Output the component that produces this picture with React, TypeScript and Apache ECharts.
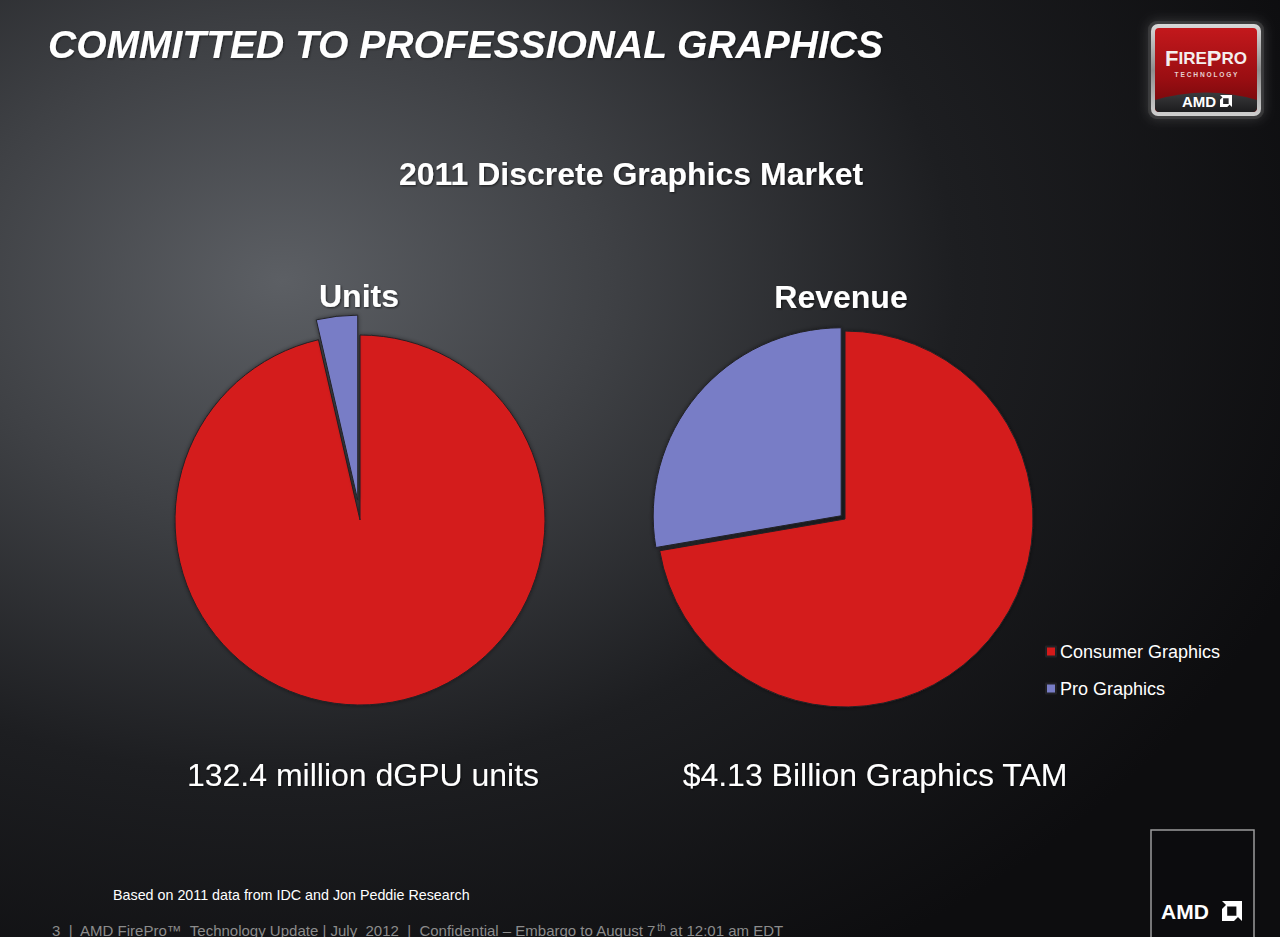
import React, { useEffect, useRef } from "react";
import * as echarts from "echarts";

// Market share of 2011 discrete graphics, in percent of each total
const categories = ["Consumer Graphics", "Pro Graphics"];
const unitsShare = [96.4, 3.6];
const revenueShare = [72.3, 27.7];
const sliceColors = ["#d41a1a", "#787dc6"];

const chartTitle = "2011 Discrete Graphics Market";
const pieTitles = ["Units", "Revenue"];
const pieTotals = ["132.4 million dGPU units", "$4.13 Billion Graphics TAM"];
const sourceNote = "Based on 2011 data from IDC and Jon Peddie Research";

const FONT = "'Liberation Sans', Arial, Helvetica, sans-serif";
const NARROW = "'Liberation Sans Narrow', 'Arial Narrow', 'Liberation Sans', Arial, sans-serif";

// AMD arrow mark, drawn in a 100x100 box
const AMD_ARROW =
  "M0,0 L100,0 L100,100 L72,72 L72,28 L28,28 Z M0,100 L0,40 L26,14 L26,74 L86,74 L60,100 Z";
// Curved dark footer band of the FirePro badge
const BADGE_BASE =
  "M0,10 Q51,-5 102,10 L102,17 Q102,22 97,22 L5,22 Q0,22 0,17 Z";

let shapesRegistered = false;
function registerShapes() {
  if (shapesRegistered) return;
  echarts.graphic.registerShape("amdArrow", echarts.graphic.extendPath(AMD_ARROW, {}));
  echarts.graphic.registerShape("badgeBase", echarts.graphic.extendPath(BADGE_BASE, {}));
  shapesRegistered = true;
}

function pieSeries(name: string, values: number[], center: number[], radius: number, offset: number) {
  return {
    type: "pie",
    name,
    center,
    radius,
    startAngle: 90,
    clockwise: true,
    selectedMode: "single",
    selectedOffset: offset,
    label: { show: false },
    labelLine: { show: false },
    emphasis: { disabled: true },
    itemStyle: {
      borderColor: "#222226",
      borderWidth: 1,
      shadowBlur: 4,
      shadowColor: "rgba(0,0,0,0.45)",
    },
    data: categories.map((c, i) => ({
      name: c,
      value: values[i],
      selected: i === 1,
      itemStyle: { color: sliceColors[i] },
    })),
  };
}

function centeredText(text: string, x: number, y: number, size: number, weight: string) {
  return {
    type: "text",
    x,
    y,
    z: 10,
    style: {
      text,
      fill: "#ffffff",
      fontSize: size,
      fontWeight: weight,
      fontFamily: FONT,
      align: "center",
      verticalAlign: "middle",
      textShadowColor: "rgba(0,0,0,0.6)",
      textShadowBlur: 2,
      textShadowOffsetX: 1,
      textShadowOffsetY: 1,
    },
  };
}

export default function App() {
  const ref = useRef<HTMLDivElement>(null);

  useEffect(() => {
    if (!ref.current) return;
    registerShapes();
    const chart = echarts.init(ref.current, undefined, { renderer: "svg" });

    const option = {
      animation: false,
      backgroundColor: {
        type: "radial",
        x: 0.22,
        y: 0.3,
        r: 0.85,
        colorStops: [
          { offset: 0, color: "#5c5f64" },
          { offset: 0.3, color: "#3f4145" },
          { offset: 0.62, color: "#1d1e21" },
          { offset: 1, color: "#0d0d0f" },
        ],
      },
      legend: {
        orient: "vertical",
        left: 1040,
        top: 637,
        itemWidth: 10,
        itemHeight: 10,
        itemGap: 18,
        icon: "rect",
        selectedMode: false,
        data: categories,
        textStyle: {
          color: "#ffffff",
          fontSize: 18,
          lineHeight: 19,
          fontFamily: FONT,
          padding: [0, 0, 0, -1],
        },
      },
      series: [
        pieSeries(pieTitles[0], unitsShare, [360, 520], 185, 20),
        pieSeries(pieTitles[1], revenueShare, [845, 519], 188, 5),
      ],
      graphic: [
        // slide heading
        {
          type: "text",
          x: 48,
          y: 44,
          z: 10,
          style: {
            text: "COMMITTED TO PROFESSIONAL GRAPHICS",
            fill: "#ffffff",
            fontSize: 39,
            fontWeight: "bold",
            fontStyle: "italic",
            fontFamily: FONT,
            align: "left",
            verticalAlign: "middle",
            textShadowColor: "rgba(0,0,0,0.5)",
            textShadowBlur: 2,
            textShadowOffsetX: 1,
            textShadowOffsetY: 1,
          },
        },
        centeredText(chartTitle, 631, 174, 32, "bold"),
        centeredText(pieTitles[0], 359, 296, 32, "bold"),
        centeredText(pieTitles[1], 841, 297, 32, "bold"),
        centeredText(pieTotals[0], 363, 775, 32, "normal"),
        centeredText(pieTotals[1], 875, 775, 32, "normal"),
        // source note and footer
        {
          type: "text",
          x: 113,
          y: 895,
          z: 10,
          style: {
            text: sourceNote,
            fill: "#ffffff",
            fontSize: 14.3,
            fontFamily: NARROW,
            align: "left",
            verticalAlign: "middle",
          },
        },
        {
          type: "line",
          z: 5,
          shape: { x1: 0, y1: 907.5, x2: 1150, y2: 907.5 },
          style: {
            lineWidth: 1.5,
            stroke: {
              type: "linear",
              x: 0,
              y: 0,
              x2: 1,
              y2: 0,
              colorStops: [
                { offset: 0, color: "rgba(120,120,124,0.2)" },
                { offset: 0.15, color: "rgba(150,150,154,0.8)" },
                { offset: 1, color: "rgba(130,130,134,0.7)" },
              ],
            },
          },
        },
        {
          type: "text",
          x: 52,
          y: 930,
          z: 10,
          style: {
            text: "3  |  AMD FirePro™  Technology Update | July  2012  |  Confidential – Embargo to August 7{s|th} at 12:01 am EDT",
            fill: "#8c8c8c",
            fontSize: 15,
            fontFamily: NARROW,
            align: "left",
            verticalAlign: "middle",
            rich: {
              s: { fontSize: 10, fill: "#8c8c8c", fontFamily: NARROW, verticalAlign: "top", padding: [0, 0, 6, 0] },
            },
          },
        },
        // AMD corner box
        {
          type: "rect",
          z: 5,
          shape: { x: 1151, y: 830, width: 103, height: 115 },
          style: { fill: "#0c0c0e", stroke: "#9a9a9c", lineWidth: 1.5 },
        },
        {
          type: "text",
          x: 1161,
          y: 911,
          z: 10,
          style: {
            text: "AMD",
            fill: "#ffffff",
            fontSize: 21,
            fontWeight: "bold",
            fontFamily: FONT,
            align: "left",
            verticalAlign: "middle",
          },
        },
        { type: "amdArrow", x: 1222, y: 901, scaleX: 0.2, scaleY: 0.2, z: 10, style: { fill: "#ffffff" } },
        // FirePro badge
        {
          type: "rect",
          z: 5,
          shape: { x: 1148, y: 21, width: 116, height: 98, r: 9 },
          style: {
            fill: "rgba(60,60,62,0.6)",
            shadowBlur: 12,
            shadowColor: "rgba(200,200,200,0.35)",
          },
        },
        {
          type: "rect",
          z: 6,
          shape: { x: 1151, y: 24, width: 110, height: 92, r: 7 },
          style: {
            fill: {
              type: "linear",
              x: 0,
              y: 0,
              x2: 0,
              y2: 1,
              colorStops: [
                { offset: 0, color: "#d9d9d9" },
                { offset: 0.5, color: "#8e8e8e" },
                { offset: 1, color: "#cfcfcf" },
              ],
            },
          },
        },
        {
          type: "rect",
          z: 7,
          shape: { x: 1155, y: 28, width: 102, height: 84, r: 4 },
          style: {
            fill: {
              type: "linear",
              x: 0,
              y: 0,
              x2: 0,
              y2: 1,
              colorStops: [
                { offset: 0, color: "#c3181c" },
                { offset: 0.6, color: "#9a0e12" },
                { offset: 1, color: "#6e080b" },
              ],
            },
          },
        },
        {
          type: "badgeBase",
          x: 1155,
          y: 90,
          z: 8,
          style: {
            fill: {
              type: "linear",
              x: 0,
              y: 0,
              x2: 0,
              y2: 1,
              colorStops: [
                { offset: 0, color: "#3a3a3c" },
                { offset: 1, color: "#1c1c1e" },
              ],
            },
          },
        },
        {
          type: "text",
          x: 1206,
          y: 58,
          z: 10,
          style: {
            text: "{a|F}{b|IRE}{a|P}{b|RO}",
            align: "center",
            verticalAlign: "middle",
            rich: {
              a: { fontSize: 22, fontWeight: "bold", fill: "#f4eeee", fontFamily: FONT },
              b: { fontSize: 17, fontWeight: "bold", fill: "#f4eeee", fontFamily: FONT },
            },
          },
        },
        {
          type: "text",
          x: 1206,
          y: 74,
          z: 10,
          style: {
            text: "T E C H N O L O G Y",
            fill: "#e8d0d0",
            fontSize: 6.6,
            fontWeight: "bold",
            fontFamily: FONT,
            align: "center",
            verticalAlign: "middle",
          },
        },
        {
          type: "text",
          x: 1182,
          y: 101,
          z: 10,
          style: {
            text: "AMD",
            fill: "#ffffff",
            fontSize: 15,
            fontWeight: "bold",
            fontFamily: FONT,
            align: "left",
            verticalAlign: "middle",
          },
        },
        { type: "amdArrow", x: 1220, y: 95, scaleX: 0.12, scaleY: 0.12, z: 10, style: { fill: "#ffffff" } },
      ],
    };

    chart.setOption(option as any);
    return () => chart.dispose();
  }, []);

  return (
    <div
      ref={ref}
      style={{ position: "absolute", left: 0, top: 0, width: 1280, height: 937 }}
    />
  );
}
